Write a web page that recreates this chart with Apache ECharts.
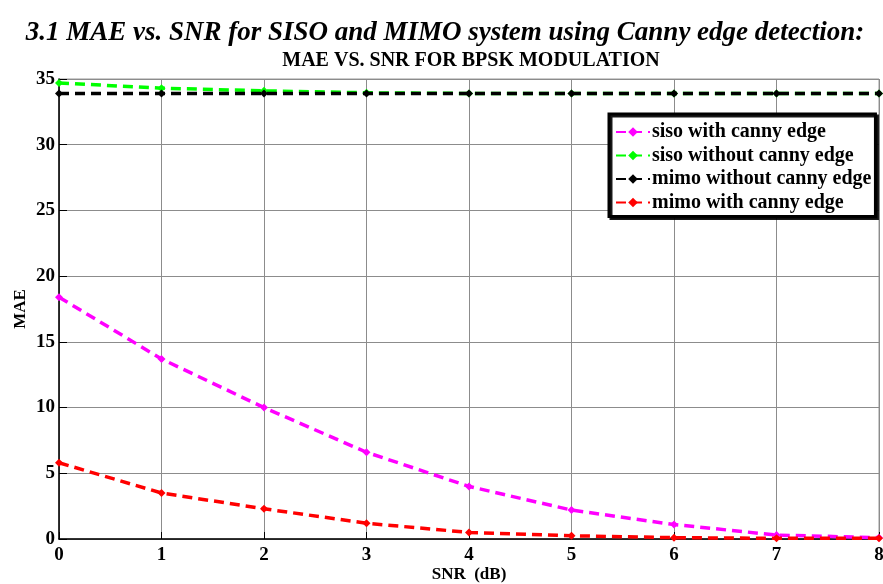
<!DOCTYPE html>
<html>
<head>
<meta charset="utf-8">
<script src="https://cdn.jsdelivr.net/npm/echarts@6/dist/echarts.min.js"></script>
<style>
  html, body { margin: 0; padding: 0; background: #fff; }
  #chart { width: 883px; height: 584px; }
</style>
</head>
<body>
<div id="chart"></div>
<script>
// SNR (dB) values on the x axis
const snr = [0, 1, 2, 3, 4, 5, 6, 7, 8];
// MAE readings for each curve
const sisoWithCanny = [18.4, 13.7, 10.0, 6.6, 4.0, 2.2, 1.1, 0.3, 0.1];
const sisoWithoutCanny = [34.7, 34.3, 34.1, 33.95, 33.9, 33.9, 33.9, 33.9, 33.9];
const mimoWithoutCanny = [33.9, 33.9, 33.9, 33.9, 33.9, 33.9, 33.9, 33.9, 33.9];
const mimoWithCanny = [5.8, 3.5, 2.3, 1.2, 0.5, 0.25, 0.1, 0.05, 0.05];
const seriesNames = ['siso with canny edge', 'siso without canny edge', 'mimo without canny edge', 'mimo with canny edge'];
const seriesColors = ['#ff00ff', '#00ff00', '#000000', '#ff0000'];

const font = 'Liberation Serif, Times New Roman, serif';
const chart = echarts.init(document.getElementById('chart'));

function pairs(ys) {
  return snr.map((x, i) => [x, ys[i]]);
}

function line(name, ys, color, z) {
  return {
    name: name,
    type: 'line',
    data: pairs(ys),
    symbol: 'diamond',
    symbolSize: 8,
    z: z,
    lineStyle: { color: color, width: 3.5, type: [10, 6] },
    itemStyle: { color: color },
    animation: false
  };
}

const option = {
  backgroundColor: '#fff',
  title: [
    {
      text: '3.1 MAE vs. SNR for SISO and MIMO system using Canny edge detection:',
      left: 440,
      textAlign: 'center',
      top: 15,
      textStyle: { fontFamily: font, fontStyle: 'italic', fontWeight: 'bold', fontSize: 27, color: '#000' }
    },
    {
      text: 'MAE VS. SNR FOR BPSK MODULATION',
      left: 466,
      textAlign: 'center',
      top: 46,
      textStyle: { fontFamily: font, fontWeight: 'bold', fontSize: 20, color: '#000' }
    }
  ],
  legend: {
    orient: 'vertical',
    left: 609,
    top: 114,
    padding: [8, 4, 4, 6],
    itemGap: 3.5,
    itemWidth: 34,
    itemHeight: 12,
    backgroundColor: '#fff',
    borderColor: '#000',
    borderWidth: 3,
    shadowColor: 'rgba(0,0,0,0.9)',
    shadowOffsetX: 2,
    shadowOffsetY: 2,
    textStyle: { fontFamily: font, fontWeight: 'bold', fontSize: 20, color: '#000', padding: [0, 0, 0, -3] },
    data: seriesNames
  },
  grid: {
    left: 59, right: 4, top: 79, bottom: 45,
    outerBoundsMode: 'none',
    show: true, borderColor: '#999', borderWidth: 1
  },
  xAxis: {
    type: 'value',
    min: 0,
    max: 8,
    interval: 1,
    name: 'SNR  (dB)',
    nameLocation: 'middle',
    nameGap: 27,
    nameMoveOverlap: false,
    nameTextStyle: { fontFamily: font, fontWeight: 'bold', fontSize: 17, color: '#000' },
    axisLine: { lineStyle: { color: '#000', width: 1.5 } },
    axisTick: { inside: true, length: 7, lineStyle: { color: '#000' } },
    axisLabel: { fontFamily: font, fontWeight: 'bold', fontSize: 19, color: '#000', margin: 7 },
    splitLine: { show: true, lineStyle: { color: '#8c8c8c', width: 1 } }
  },
  yAxis: {
    type: 'value',
    min: 0,
    max: 35,
    interval: 5,
    name: 'MAE',
    nameLocation: 'middle',
    nameGap: 30,
    nameMoveOverlap: false,
    nameTextStyle: { fontFamily: font, fontWeight: 'bold', fontSize: 17, color: '#000' },
    axisLine: { lineStyle: { color: '#000', width: 1.5 } },
    axisTick: { inside: true, length: 8, lineStyle: { color: '#000' } },
    axisLabel: { fontFamily: font, fontWeight: 'bold', fontSize: 19, color: '#000', margin: 4 },
    splitLine: { show: true, lineStyle: { color: '#8c8c8c', width: 1 } }
  },
  series: [
    line(seriesNames[0], sisoWithCanny, seriesColors[0], 3),
    line(seriesNames[1], sisoWithoutCanny, seriesColors[1], 2),
    line(seriesNames[2], mimoWithoutCanny, seriesColors[2], 4),
    line(seriesNames[3], mimoWithCanny, seriesColors[3], 5)
  ]
};

chart.setOption(option);
</script>
</body>
</html>
